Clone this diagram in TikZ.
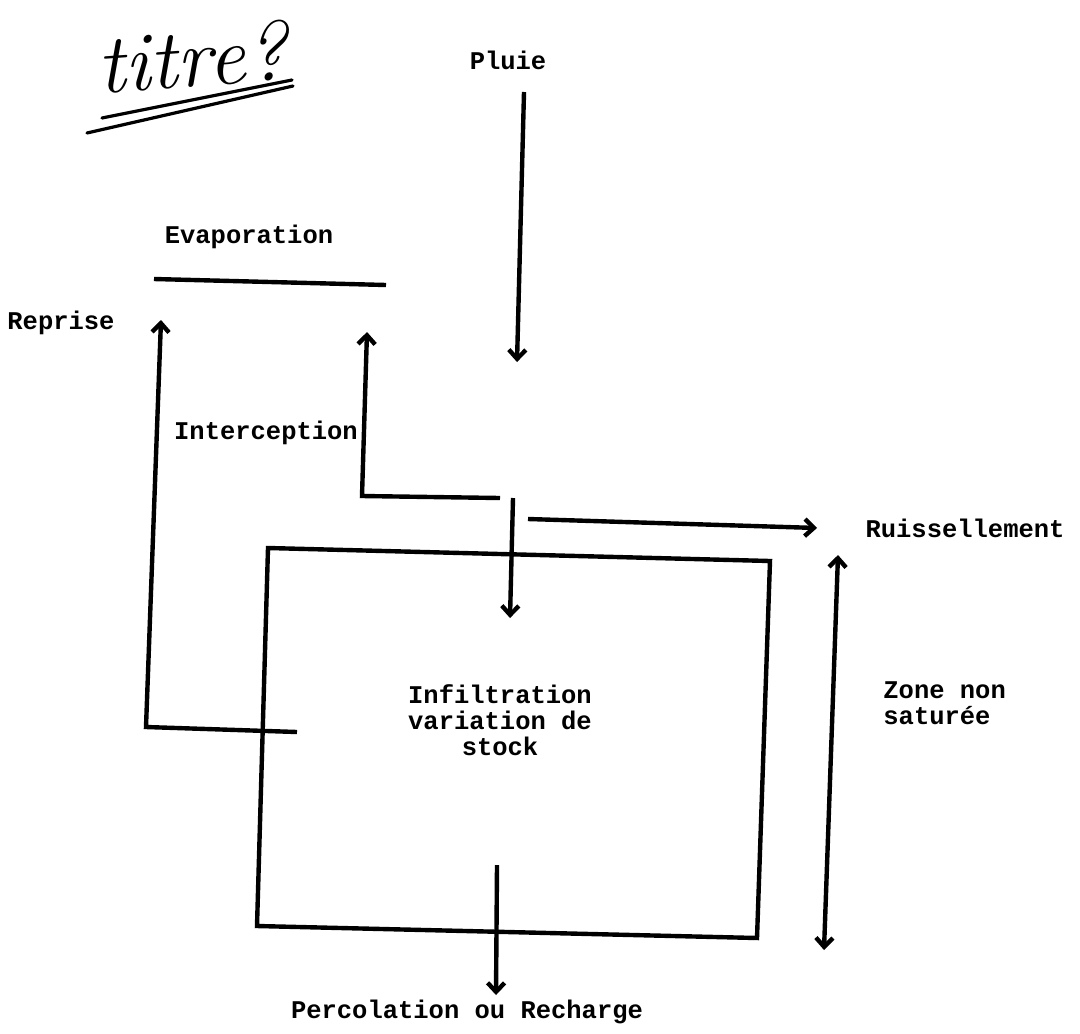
\documentclass[tikz,border=0pt]{standalone}
\usepackage{fontspec}
\newfontfamily\tw{Liberation Mono}
\usetikzlibrary{arrows.meta}
\begin{document}
\begin{tikzpicture}[x=0.5pt,y=-0.5pt,
  lab/.style={font=\tw\bfseries\fontsize{12.75}{13}\selectfont, inner sep=0pt, align=center},
  ln/.style={line width=2.2pt, line join=miter},
  arr/.style={ln, -{Straight Barb[length=4.5pt,width=8.5pt]}},
  darr/.style={ln, {Straight Barb[length=4.5pt,width=8.5pt]}-{Straight Barb[length=4.5pt,width=8.5pt]}},
  hand/.style={line width=1.6pt, line cap=round}
]
\useasboundingbox (0,0) rectangle (1080,1033);
\fill[white] (0,0) rectangle (1080,1033);

% handwritten annotation
\node[font=\itshape\fontsize{42}{42}\selectfont, rotate=4, inner sep=0pt] (titre) at (192,57) {titre?};
\coordinate (t1) at (102,118); \coordinate (t2) at (292,80);
\coordinate (t3) at (87,133);  \coordinate (t4) at (293,86);
\draw[hand] (t1) -- (t2);
\draw[hand] (t3) -- (t4);

% labels
\node[lab] (pluie) at (508,60) {Pluie};
\node[lab] (evap) at (249,237) {Evaporation};
\node[lab] (reprise) at (61,323) {Reprise};
\node[lab] (interc) at (266,433) {Interception};
\node[lab] (ruiss) at (965,528) {Ruissellement};
\node[lab] (infil) at (500,720) {Infiltration\\variation de\\stock};
\node[lab, align=left, anchor=west] (zone) at (883,703) {Zone non\\saturée};
\node[lab] (perco) at (467,1012) {Percolation ou Recharge};

% box (unsaturated zone)
\coordinate (b1) at (268,548); \coordinate (b2) at (770,561);
\coordinate (b3) at (757,938); \coordinate (b4) at (257,926);
\draw[ln] (b1) -- (b2) -- (b3) -- (b4) -- cycle;

% evaporation line
\coordinate (e1) at (154,279); \coordinate (e2) at (386,285);
\draw[ln] (e1) -- (e2);

% rain
\coordinate (p1) at (524,92); \coordinate (p2) at (517,362);
\draw[arr] (p1) -- (p2);

% reprise
\coordinate (r0) at (297,732); \coordinate (r1) at (146,727); \coordinate (r2) at (161,320);
\draw[arr] (r0) -- (r1) -- (r2);

% interception
\coordinate (i0) at (500,498); \coordinate (i1) at (362,496); \coordinate (i2) at (367,332);
\draw[arr] (i0) -- (i1) -- (i2);

% infiltration
\coordinate (f1) at (513,498); \coordinate (f2) at (510,618);
\draw[arr] (f1) -- (f2);

% runoff
\coordinate (u1) at (528,519); \coordinate (u2) at (817,528);
\draw[arr] (u1) -- (u2);

% zone non saturee
\coordinate (z1) at (824,950); \coordinate (z2) at (838,555);
\draw[darr] (z1) -- (z2);

% percolation
\coordinate (c1) at (497,865); \coordinate (c2) at (496,995);
\draw[arr] (c1) -- (c2);
\end{tikzpicture}
\end{document}
